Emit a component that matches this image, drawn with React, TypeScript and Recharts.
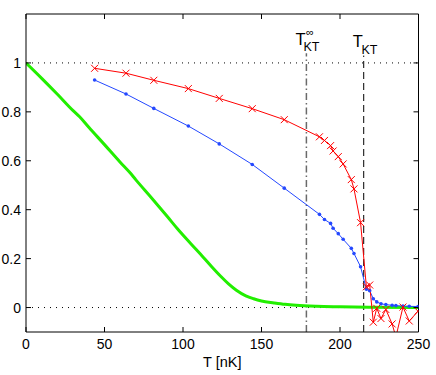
// Superfluid fraction vs temperature: two measured curves (crosses, dots),
// the ideal-gas curve in green, and the two KT temperatures marked.

import { LineChart, Line, XAxis, YAxis, ReferenceLine } from "recharts";

const FONT = '"Liberation Sans", Arial, Helvetica, sans-serif';

// measured temperatures, shared by the red and blue series
const temps = [
  43.7, 63.7, 81.4, 103.4, 123.1, 144.1, 164.5, 186.9, 190.1, 194.0, 195.6, 198.9, 202.0,
  207.2, 208.9, 213.1, 216.8, 218.9, 221.2, 223.4, 226.1, 229.2, 233.2, 235.6, 240.1, 244.1, 249.7,
];
const redVals = [
  0.978, 0.958, 0.929, 0.895, 0.855, 0.813, 0.768, 0.698, 0.683, 0.662, 0.640, 0.617, 0.587,
  0.523, 0.485, 0.347, 0.085, 0.092, -0.06, -0.003, -0.045, -0.008, -0.067, -0.12, 0.002, -0.055, -0.015,
];
const blueVals = [
  0.93, 0.873, 0.814, 0.742, 0.669, 0.585, 0.488, 0.381, 0.36, 0.344, 0.324, 0.302, 0.279,
  0.242, 0.221, 0.167, 0.075, 0.069, 0.036, 0.023, 0.015, 0.012, 0.009, 0.008, 0.006, 0.005, 0.004,
];

// ideal-gas curve
const greenT = [0, 10, 20, 30, 34, 40, 50, 60, 66, 70, 80, 90, 97, 105, 113, 118, 124, 129, 134, 140, 145, 150, 158, 165, 172, 185, 200, 220, 250];
const greenVals = [1, 0.937, 0.872, 0.805, 0.781, 0.737, 0.666, 0.594, 0.553, 0.522, 0.448, 0.372, 0.318, 0.261, 0.205, 0.169, 0.128, 0.097, 0.071, 0.048, 0.036, 0.027, 0.019, 0.013, 0.009, 0.005, 0.003, 0.001, 0];

const xTicks = [0, 50, 100, 150, 200, 250];
const yTicks = [0, 0.2, 0.4, 0.6, 0.8, 1];
const tKTinf = 178.6;
const tKT = 215.1;

const redData = temps.map((t, i) => ({ t, v: redVals[i] }));
const blueData = temps.map((t, i) => ({ t, v: blueVals[i] }));
const greenData = greenT.map((t, i) => ({ t, v: greenVals[i] }));

const TICK = 5;
const frame = { stroke: "#000", strokeWidth: 1 };

function BottomTick({ x, y, payload }: any) {
  return (
    <g>
      <line x1={x} x2={x} y1={y} y2={y - TICK} stroke="#000" />
      <text x={x} y={y + 17} textAnchor="middle" fontSize={14} fontFamily={FONT} fill="#000">
        {payload.value}
      </text>
    </g>
  );
}

function TopTick({ x, y }: any) {
  return <line x1={x} x2={x} y1={y} y2={y + TICK} stroke="#000" />;
}

function LeftTick({ x, y, payload }: any) {
  return (
    <g>
      <line x1={x} x2={x + TICK} y1={y} y2={y} stroke="#000" />
      <text x={x - 5} y={y + 5} textAnchor="end" fontSize={14} fontFamily={FONT} fill="#000">
        {payload.value}
      </text>
    </g>
  );
}

function RightTick({ x, y }: any) {
  return <line x1={x} x2={x - TICK} y1={y} y2={y} stroke="#000" />;
}

function RedCross(p: any) {
  const { cx, cy } = p;
  if (cx == null || cy == null) return <g key={p.key} />;
  const s = 3.5;
  return (
    <path
      key={p.key}
      d={`M${cx - s},${cy - s}L${cx + s},${cy + s}M${cx - s},${cy + s}L${cx + s},${cy - s}`}
      stroke="#ff0000"
      strokeWidth={1}
      fill="none"
    />
  );
}

function BlueDot(p: any) {
  const { cx, cy } = p;
  if (cx == null || cy == null) return <g key={p.key} />;
  return <circle key={p.key} cx={cx} cy={cy} r={1.8} fill="#2448ff" stroke="none" />;
}

// T with stacked ∞ superscript / KT subscript, as one text element
function TLabel({ viewBox, inf, kx }: any) {
  const { x, y } = viewBox;
  return (
    <text x={x - 11} y={y - 8.5} fontSize={16.5} fontFamily={FONT} fill="#000">
      T
      {inf && (
        <tspan x={x - 0.5} y={y - 17.5} fontSize={11}>
          ∞
        </tspan>
      )}
      <tspan x={x + kx} y={y - 2} fontSize={12.5}>
        KT
      </tspan>
    </text>
  );
}

function XTitle({ viewBox }: any) {
  const { x, width, y } = viewBox;
  return (
    <text x={x + width / 2} y={y + 35} textAnchor="middle" fontSize={14.5} fontFamily={FONT} fill="#000">
      T [nK]
    </text>
  );
}

export default function App() {
  return (
    <div style={{ position: "absolute", left: 0, top: 0, background: "#fff" }}>
      <LineChart width={436} height={375} margin={{ top: 13, right: 16.5, bottom: 0, left: 0 }}>
        <XAxis
          dataKey="t"
          type="number"
          domain={[0, 250]}
          ticks={xTicks}
          allowDataOverflow
          height={43}
          axisLine={frame}
          tickLine={false}
          tickSize={0}
          tickMargin={0}
          tick={BottomTick}
          label={(props: any) => <XTitle {...props} />}
        />
        <XAxis
          xAxisId="top"
          orientation="top"
          dataKey="t"
          type="number"
          domain={[0, 250]}
          ticks={xTicks}
          allowDataOverflow
          height={1}
          axisLine={frame}
          tickLine={false}
          tickSize={0}
          tickMargin={0}
          tick={TopTick}
        />
        <YAxis
          type="number"
          domain={[-0.1, 1.2]}
          ticks={yTicks}
          allowDataOverflow
          width={26}
          axisLine={frame}
          tickLine={false}
          tickSize={0}
          tickMargin={0}
          tick={LeftTick}
        />
        <YAxis
          yAxisId="right"
          orientation="right"
          type="number"
          domain={[-0.1, 1.2]}
          ticks={yTicks}
          allowDataOverflow
          width={1}
          axisLine={frame}
          tickLine={false}
          tickSize={0}
          tickMargin={0}
          tick={RightTick}
        />

        <ReferenceLine y={1} stroke="#000" strokeDasharray="1 5" />
        <ReferenceLine y={0} stroke="#000" strokeDasharray="1 5" />
        <ReferenceLine
          segment={[{ x: tKTinf, y: -0.1 }, { x: tKTinf, y: 1.04 }]}
          stroke="#6a6a6a"
          strokeWidth={1.5}
          strokeDasharray="7 3 1.5 3"
          label={(props: any) => <TLabel {...props} inf kx={-3} />}
        />
        <ReferenceLine
          segment={[{ x: tKT, y: -0.1 }, { x: tKT, y: 1.03 }]}
          stroke="#000"
          strokeWidth={1}
          strokeDasharray="7 4"
          label={(props: any) => <TLabel {...props} kx={-2.3} />}
        />

        {/* invisible carrier so the top and right frame axes are drawn */}
        <Line
          data={greenData}
          dataKey="v"
          xAxisId="top"
          yAxisId="right"
          stroke="none"
          dot={false}
          activeDot={false}
          isAnimationActive={false}
        />
        <Line
          data={greenData}
          dataKey="v"
          type="monotone"
          stroke="#22ee00"
          strokeWidth={3}
          dot={false}
          isAnimationActive={false}
        />
        <Line
          data={blueData}
          dataKey="v"
          type="linear"
          stroke="#2448ff"
          strokeWidth={1}
          dot={BlueDot}
          isAnimationActive={false}
        />
        <Line
          data={redData}
          dataKey="v"
          type="linear"
          stroke="#ff0000"
          strokeWidth={1}
          dot={RedCross}
          isAnimationActive={false}
        />
      </LineChart>
    </div>
  );
}
